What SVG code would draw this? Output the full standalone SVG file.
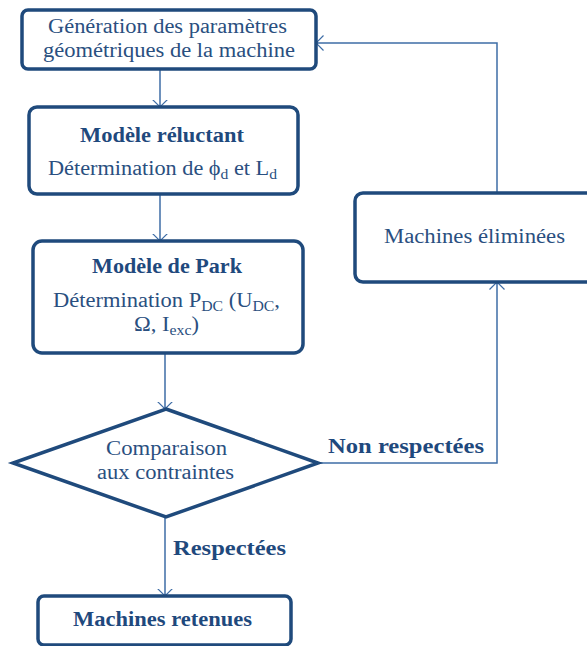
<svg xmlns="http://www.w3.org/2000/svg" width="587" height="646" viewBox="0 0 587 646">
<style>
.box{fill:#fff;stroke:#1F4A7C;stroke-width:3.5}
.t{font-family:"Liberation Serif","Times New Roman",serif;font-size:20px;fill:#2A4F80}
.b{font-weight:bold;fill:#1F497D}
.s{font-size:14px}
.c{fill:none;stroke:#3E6DA6;stroke-width:1.5}
</style>
<defs>
<marker id="arr" viewBox="0 0 8 16" refX="7.5" refY="8" markerWidth="8" markerHeight="16" orient="auto" markerUnits="userSpaceOnUse">
<path d="M0,0.5 L7.5,8 L0,15.5" fill="none" stroke="#3E6DA6" stroke-width="1.2"/>
</marker>
</defs>
<rect width="587" height="646" fill="#fff"/>
<g id="connectors">
<path class="c" d="M160,69 V107" marker-end="url(#arr)"/>
<path class="c" d="M160,194 V241" marker-end="url(#arr)"/>
<path class="c" d="M165,353 V409" marker-end="url(#arr)"/>
<path class="c" d="M165,517 V596" marker-end="url(#arr)"/>
<path class="c" d="M318,463 H497 V282" marker-end="url(#arr)"/>
<path class="c" d="M497,193 V43 H316" marker-end="url(#arr)"/>
<text class="t b" x="328" y="453" textLength="156" lengthAdjust="spacingAndGlyphs">Non respectées</text>
<text class="t b" x="173" y="555" textLength="113" lengthAdjust="spacingAndGlyphs">Respectées</text>
</g>
<g id="n1">
<rect class="box" x="22" y="10" width="294" height="59" rx="6"/>
<text class="t" x="48" y="33" textLength="239" lengthAdjust="spacingAndGlyphs">Génération des paramètres</text>
<text class="t" x="43" y="57" textLength="252" lengthAdjust="spacingAndGlyphs">géométriques de la machine</text>
</g>
<g id="n2">
<rect class="box" x="29" y="107" width="269" height="87" rx="8"/>
<text class="t b" x="80" y="142" textLength="164" lengthAdjust="spacingAndGlyphs">Modèle réluctant</text>
<text class="t" x="48" y="175" textLength="229" lengthAdjust="spacingAndGlyphs">Détermination de ϕ<tspan class="s" dy="4">d</tspan><tspan dy="-4"> et L</tspan><tspan class="s" dy="4">d</tspan></text>
</g>
<g id="n3">
<rect class="box" x="33" y="241" width="270" height="112" rx="9"/>
<text class="t b" x="92" y="273" textLength="150" lengthAdjust="spacingAndGlyphs">Modèle de Park</text>
<text class="t" x="53" y="307" textLength="227" lengthAdjust="spacingAndGlyphs">Détermination P<tspan class="s" dy="4">DC</tspan><tspan dy="-4"> (U</tspan><tspan class="s" dy="4">DC</tspan><tspan dy="-4">,</tspan></text>
<text class="t" x="134" y="331" textLength="65" lengthAdjust="spacingAndGlyphs">Ω, I<tspan class="s" dy="4">exc</tspan><tspan dy="-4">)</tspan></text>
</g>
<g id="n4">
<polygon class="box" points="166,409 318,463 166,517 13,463" stroke-linejoin="miter"/>
<text class="t" x="106" y="455" textLength="121" lengthAdjust="spacingAndGlyphs">Comparaison</text>
<text class="t" x="97" y="479" textLength="137" lengthAdjust="spacingAndGlyphs">aux contraintes</text>
</g>
<g id="n5">
<rect class="box" x="38" y="596" width="253" height="49" rx="6"/>
<text class="t b" x="73" y="626" textLength="179" lengthAdjust="spacingAndGlyphs">Machines retenues</text>
</g>
<g id="n6">
<rect class="box" x="355" y="193" width="245" height="89" rx="8"/>
<text class="t" x="384" y="243" textLength="181" lengthAdjust="spacingAndGlyphs">Machines éliminées</text>
</g>
</svg>
